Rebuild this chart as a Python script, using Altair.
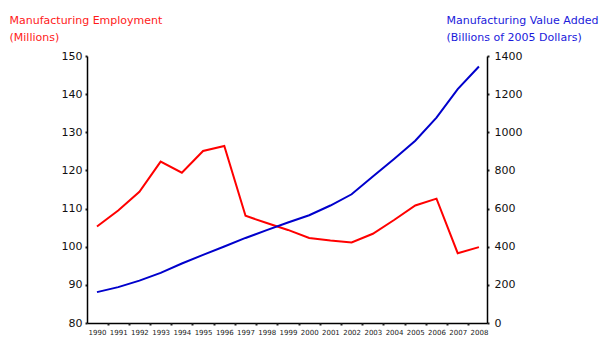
import altair as alt
import pandas as pd

years = list(range(1990, 2009))
employment = [105.3, 109.5, 114.4, 122.3, 119.4, 125.1, 126.4, 108.1, 106.2, 104.4,
              102.3, 101.6, 101.1, 103.4, 107.0, 110.8, 112.6, 98.3, 99.9]
value_added = [162, 188, 222, 263, 312, 357, 401, 446, 487, 527,
               565, 616, 675, 768, 860, 956, 1077, 1226, 1345]
left_ticks = [80, 90, 100, 110, 120, 130, 140, 150]
right_ticks = [0, 200, 400, 600, 800, 1000, 1200, 1400]
x_minor = [y + 0.5 for y in years[:-1]]

df = pd.DataFrame({"year": years, "emp": employment, "va": value_added})

FONT = "DejaVu Sans"
xscale = alt.Scale(domain=[1989.53, 2008.38], nice=False, zero=False)

red_line = alt.Chart(df).mark_line(color="#FF0000", strokeWidth=2).encode(
    x=alt.X("year:Q", scale=xscale,
            axis=alt.Axis(values=years, format="d", ticks=False, domain=True,
                          domainColor="black", domainWidth=1.5,
                          labelFontSize=7, labelFont=FONT, labelColor="#222",
                          labelPadding=5, title=None, grid=False, orient="bottom",
                          labelOverlap=False, labelFlush=False)),
    y=alt.Y("emp:Q", scale=alt.Scale(domain=[80, 150], nice=False, zero=False),
            axis=alt.Axis(values=left_ticks, format="d", orient="left", grid=False,
                          domainColor="black", domainWidth=1.5,
                          tickColor="#222", tickSize=2, tickWidth=2,
                          labelFontSize=11, labelFont=FONT, labelColor="#111",
                          labelPadding=3,
                          title=["Manufacturing Employment", "(Millions)"],
                          titleColor="#FF1A1A", titleFont=FONT, titleFontSize=11,
                          titleFontWeight="normal", titleAngle=0, titleAlign="left",
                          titleBaseline="alphabetic", titleX=-78, titleY=-33,
                          titleLineHeight=17)),
)

blue_line = alt.Chart(df).mark_line(color="#0000CC", strokeWidth=2).encode(
    x=alt.X("year:Q", scale=xscale,
            axis=alt.Axis(values=x_minor, labels=False, ticks=True, domain=False,
                          tickColor="#222", tickSize=2, tickWidth=2,
                          title=None, grid=False, orient="bottom")),
    y=alt.Y("va:Q", scale=alt.Scale(domain=[0, 1400], nice=False),
            axis=alt.Axis(values=right_ticks, format="d", orient="right", grid=False,
                          domainColor="black", domainWidth=1.5,
                          tickColor="#222", tickSize=2, tickWidth=2,
                          labelFontSize=11, labelFont=FONT, labelColor="#111",
                          labelPadding=5,
                          title=["Manufacturing Value Added", "(Billions of 2005 Dollars)"],
                          titleColor="#1A1ADB", titleFont=FONT, titleFontSize=11,
                          titleFontWeight="normal", titleAngle=0, titleAlign="left",
                          titleBaseline="alphabetic", titleX=-41, titleY=-33,
                          titleLineHeight=17)),
)

chart = alt.layer(red_line, blue_line).resolve_scale(
    y="independent"
).resolve_axis(
    x="independent", y="independent"
).properties(
    width=400, height=267,
    autosize=alt.AutoSizeParams(type="none"),
    padding={"left": 87, "top": 56, "right": 113, "bottom": 30},
).configure(
    background="white",
    view=alt.ViewConfig(stroke=None),
)

chart.save("out.html", embed_options={"renderer": "svg", "actions": False})
